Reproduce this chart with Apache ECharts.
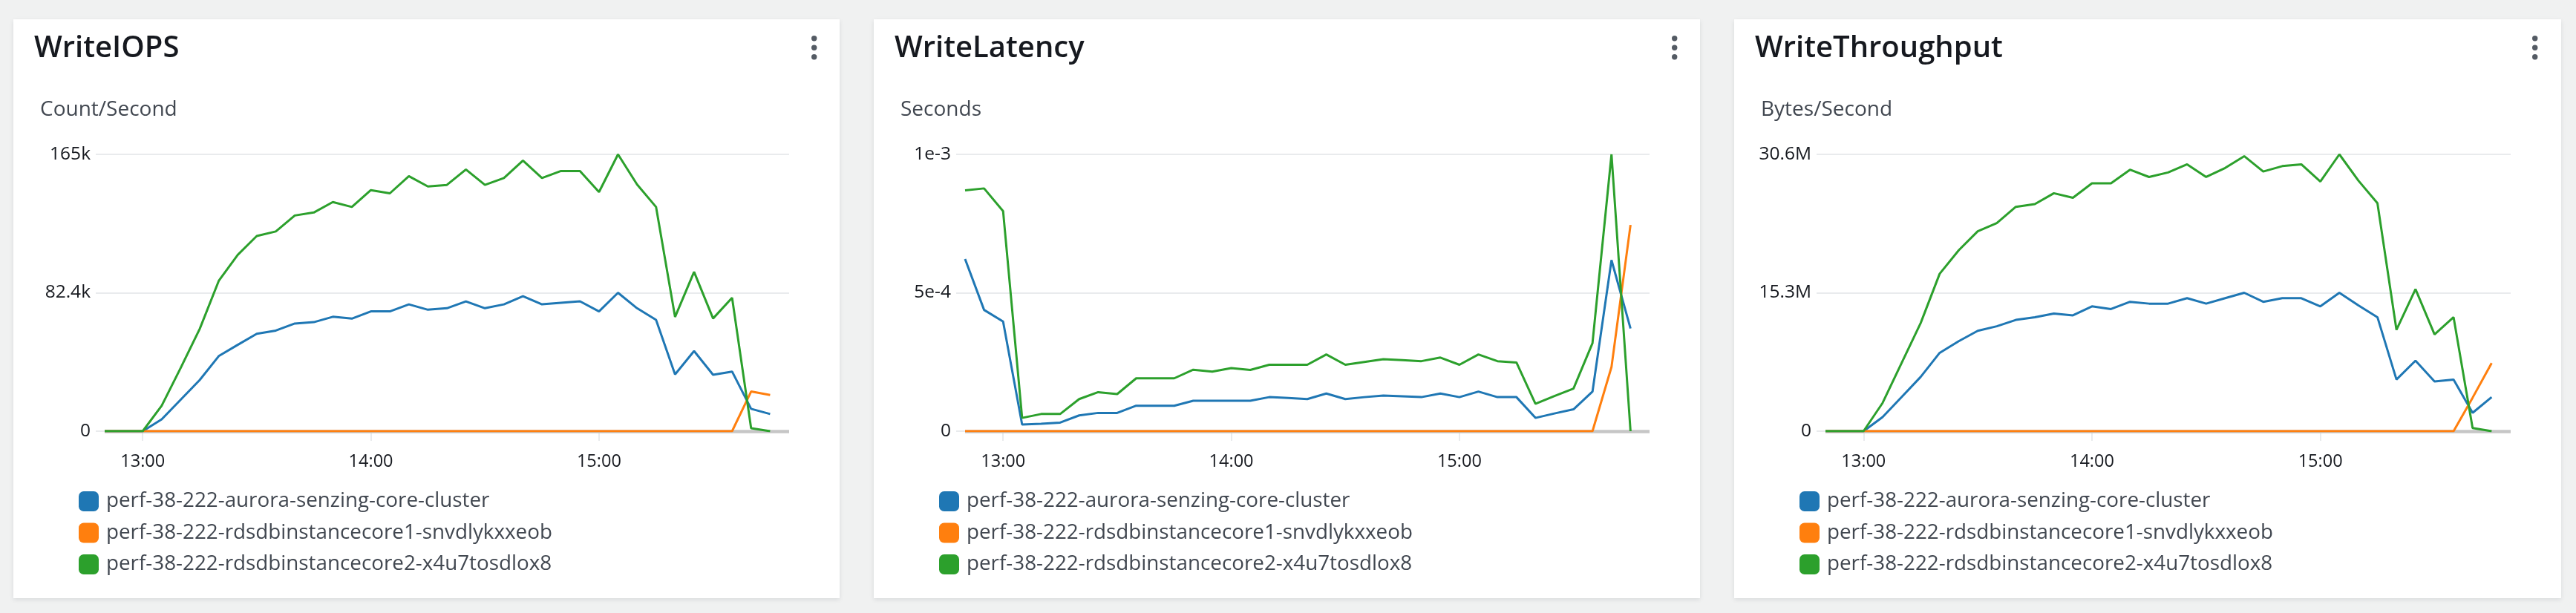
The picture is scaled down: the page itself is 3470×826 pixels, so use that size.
<!DOCTYPE html>
<html>
<head>
<meta charset="utf-8">
<script src="https://cdn.jsdelivr.net/npm/echarts@6/dist/echarts.min.js"></script>
<style>
  html, body { margin: 0; padding: 0; background: #f0f1f1; width: 3470px; height: 826px; overflow: hidden; }
  .card { position: absolute; top: 26px; height: 780px; background: #fff;
          box-shadow: 0 2px 6px rgba(0, 28, 36, 0.10); }
</style>
</head>
<body>
<div class="card" id="c1" style="left:18px;width:1113px"></div>
<div class="card" id="c2" style="left:1177px;width:1113px"></div>
<div class="card" id="c3" style="left:2336px;width:1114px"></div>
<script>
// ---------------- DATA ----------------
const times = ['12:50','12:55','13:00','13:05','13:10','13:15','13:20','13:25','13:30','13:35','13:40','13:45',
               '13:50','13:55','14:00','14:05','14:10','14:15','14:20','14:25','14:30','14:35','14:40','14:45',
               '14:50','14:55','15:00','15:05','15:10','15:15','15:20','15:25','15:30','15:35','15:40','15:45'];
const xTickLabels = ['13:00', '14:00', '15:00'];
const xAxisEnd = '15:50';
const seriesNames = ['perf-38-222-aurora-senzing-core-cluster',
                     'perf-38-222-rdsdbinstancecore1-snvdlykxxeob',
                     'perf-38-222-rdsdbinstancecore2-x4u7tosdlox8'];
const seriesColors = ['#1f77b4', '#ff7f0e', '#2ca02c'];

// WriteIOPS (Count/Second)
const iopsBlue = [0,0,0,7100,18800,30500,44700,51400,58000,59900,64100,64900,68100,67000,71300,71300,75500,72300,
                  73200,77300,73200,75500,80400,75500,76400,77300,71300,82400,73200,66300,33800,47700,33600,35500,13300,10200];
const iopsOrange = [0,0,0,0,0,0,0,0,0,0,0,0,0,0,0,0,0,0,0,0,0,0,0,0,0,0,0,0,0,0,0,0,0,0,23600,21500];
const iopsGreen = [0,0,0,15200,37700,60900,89500,105000,116200,118900,128400,130200,136400,133500,143500,141600,151800,145700,
                   146600,155800,146600,150700,161100,150700,154900,154900,142400,164800,146900,133500,68000,94800,67100,79400,1800,0];
const iopsYTicks = [0, 82400, 164800];
const iopsYLabels = ['0', '82.4k', '165k'];

// WriteLatency (Seconds)
const latBlue = [0.000622,0.000438,0.000396,0.000024,0.000027,0.000031,0.000057,0.000066,0.000066,0.000092,0.000092,0.000092,
                 0.000110,0.000110,0.000110,0.000110,0.000123,0.000120,0.000116,0.000136,0.000116,0.000123,0.000129,0.000126,
                 0.000123,0.000136,0.000123,0.000143,0.000123,0.000123,0.000048,0.000064,0.000079,0.000143,0.000618,0.000371];
const latOrange = [0,0,0,0,0,0,0,0,0,0,0,0,0,0,0,0,0,0,0,0,0,0,0,0,0,0,0,0,0,0,0,0,0,0,0.000232,0.000745];
const latGreen = [0.000870,0.000877,0.000795,0.000048,0.000062,0.000062,0.000116,0.000141,0.000134,0.000191,0.000191,0.000191,
                  0.000222,0.000215,0.000228,0.000221,0.000240,0.000240,0.000240,0.000277,0.000240,0.000250,0.000260,0.000257,
                  0.000253,0.000266,0.000240,0.000277,0.000253,0.000248,0.000099,0.000127,0.000154,0.000318,0.001000,0];
const latYTicks = [0, 0.0005, 0.001];
const latYLabels = ['0', '5e-4', '1e-3'];

// WriteThroughput (Bytes/Second)
const thrBlue = [0,0,0,1560000,3770000,6000000,8660000,9950000,11100000,11600000,12300000,12600000,13000000,12800000,
                 13800000,13500000,14300000,14100000,14100000,14700000,14100000,14700000,15300000,14300000,14700000,14700000,
                 13800000,15300000,13900000,12600000,5710000,7790000,5500000,5710000,2030000,3770000];
const thrOrange = [0,0,0,0,0,0,0,0,0,0,0,0,0,0,0,0,0,0,0,0,0,0,0,0,0,0,0,0,0,0,0,0,0,0,3700000,7530000];
const thrGreen = [0,0,0,3120000,7530000,11950000,17400000,20000000,22100000,23000000,24800000,25100000,26300000,25800000,
                  27400000,27400000,28900000,28100000,28600000,29500000,28100000,29100000,30400000,28700000,29300000,29500000,
                  27600000,30600000,27700000,25200000,11200000,15700000,10700000,12600000,350000,0];
const thrYTicks = [0, 15300000, 30600000];
const thrYLabels = ['0', '15.3M', '30.6M'];

const panels = [
  { id: 'c1', title: 'WriteIOPS', unit: 'Count/Second', data: [iopsBlue, iopsOrange, iopsGreen], yTicks: iopsYTicks, yLabels: iopsYLabels },
  { id: 'c2', title: 'WriteLatency', unit: 'Seconds', data: [latBlue, latOrange, latGreen], yTicks: latYTicks, yLabels: latYLabels },
  { id: 'c3', title: 'WriteThroughput', unit: 'Bytes/Second', data: [thrBlue, thrOrange, thrGreen], yTicks: thrYTicks, yLabels: thrYLabels }
];

// ---------------- HELPERS ----------------
const toMin = s => { const [h, m] = s.split(':').map(Number); return h * 60 + m; };
const xs = times.map(toMin);
const xTickVals = xTickLabels.map(toMin);
const X_MAX = toMin(xAxisEnd);
const X_MIN = xs[0] - 2.343;   // gridlines start slightly left of the first sample
const FONT = "'Open Sans', 'Noto Sans', sans-serif";

function buildOption(p) {
  const yMax = p.yTicks[p.yTicks.length - 1];
  return {
    animation: false,
    textStyle: { fontFamily: FONT },
    title: [
      { text: p.title, left: 28, top: 20, padding: 0,
        textStyle: { fontFamily: FONT, fontSize: 40, fontWeight: 600, color: '#16191f' } },
      { text: p.unit, left: 36, top: 108, padding: 0,
        textStyle: { fontFamily: FONT, fontSize: 28, fontWeight: 400, color: '#414750' } }
    ],
    grid: { left: 111, right: 68, top: 182, height: 373 },
    xAxis: {
      type: 'value', min: X_MIN, max: X_MAX,
      axisLine: { show: false },
      splitLine: { show: false },
      axisTick: { show: true, customValues: xTickVals, length: 13, lineStyle: { color: '#e9ebed', width: 2 } },
      axisLabel: { customValues: xTickVals, margin: 29, fontSize: 23.5, color: '#16191f', fontFamily: FONT,
                   formatter: v => xTickLabels[xTickVals.indexOf(Math.round(v))] || '' }
    },
    yAxis: {
      type: 'value', min: 0, max: yMax, interval: p.yTicks[1],
      axisLine: { show: false }, axisTick: { show: false },
      splitLine: { show: true, lineStyle: { color: '#e9ebed', width: 2 } },
      axisLabel: { margin: 7, fontSize: 24.5, color: '#16191f', fontFamily: FONT,
                   formatter: v => {
                     let best = 0;
                     p.yTicks.forEach((t, i) => { if (Math.abs(t - v) < Math.abs(p.yTicks[best] - v)) best = i; });
                     return p.yLabels[best];
                   } }
    },
    legend: {
      orient: 'vertical', left: 88, top: 635.5, itemWidth: 27, itemHeight: 27, itemGap: 14.5,
      icon: 'roundRect', selectedMode: false, padding: 0,
      textStyle: { fontSize: 27.8, color: '#414750', fontFamily: FONT, padding: [0, 0, 0, 5] },
      data: seriesNames
    },
    graphic: [0, 1, 2].map(k => ({
      type: 'circle', left: 1075, top: 22 + k * 12.5, silent: true,
      shape: { r: 3.7 }, style: { fill: '#545b64' }
    })),
    series: p.data.map((vals, k) => {
      const s = {
        type: 'line', name: seriesNames[k],
        data: vals.map((v, i) => [xs[i], v]),
        showSymbol: false, symbol: 'none',
        itemStyle: { color: seriesColors[k] },
        lineStyle: { color: seriesColors[k], width: 3 },
        emphasis: { disabled: true },
        z: 2 + k
      };
      if (k === 0) {
        s.markLine = {
          silent: true, symbol: 'none', z: 1, label: { show: false },
          lineStyle: { color: '#c6c6c6', width: 4.5, type: 'solid' },
          emphasis: { disabled: true },
          data: [[{ coord: [xs[0], 0] }, { coord: [X_MAX, 0] }]]
        };
      }
      return s;
    })
  };
}

panels.forEach(p => {
  const chart = echarts.init(document.getElementById(p.id), null, { renderer: 'canvas' });
  chart.setOption(buildOption(p));
});
</script>
</body>
</html>
